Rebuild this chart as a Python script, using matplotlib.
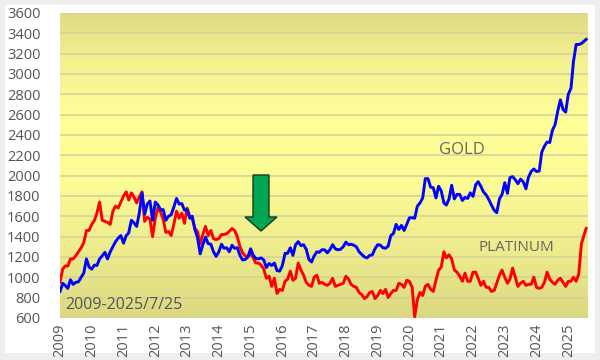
import matplotlib.pyplot as plt
import matplotlib.patches as mpatches
import numpy as np
import pandas as pd
from matplotlib.colors import LinearSegmentedColormap

plt.rcParams['font.family'] = ['Open Sans', 'DejaVu Sans']

# monthly readings, Jan 2009 .. Jun 2025, plus 2025/7/25
gold = [
    860, 940, 920, 890, 975, 930, 950, 955, 1000, 1040, 1180, 1100,
    1080, 1120, 1115, 1180, 1210, 1245, 1180, 1250, 1300, 1350, 1385, 1410,
    1335, 1410, 1435, 1560, 1535, 1500, 1630, 1830, 1620, 1720, 1750, 1560,
    1740, 1710, 1665, 1665, 1560, 1600, 1615, 1690, 1775, 1720, 1725, 1660,
    1665, 1580, 1600, 1470, 1390, 1230, 1320, 1395, 1330, 1325, 1250, 1205,
    1250, 1325, 1285, 1290, 1250, 1315, 1285, 1290, 1215, 1170, 1175, 1200,
    1280, 1215, 1185, 1180, 1190, 1170, 1095, 1135, 1115, 1140, 1065, 1060,
    1115, 1235, 1235, 1290, 1215, 1320, 1350, 1310, 1320, 1275, 1175, 1150,
    1210, 1250, 1245, 1270, 1270, 1240, 1270, 1320, 1280, 1270, 1275, 1300,
    1345, 1320, 1325, 1315, 1300, 1250, 1225, 1200, 1190, 1215, 1220, 1280,
    1320, 1315, 1290, 1285, 1305, 1410, 1430, 1520, 1470, 1510, 1460, 1520,
    1585, 1585, 1580, 1700, 1730, 1780, 1970, 1970, 1885, 1880, 1780, 1895,
    1850, 1730, 1710, 1770, 1905, 1770, 1815, 1815, 1755, 1785, 1775, 1830,
    1795, 1910, 1940, 1895, 1840, 1810, 1765, 1710, 1660, 1635, 1770, 1815,
    1930, 1825, 1980, 1990, 1960, 1920, 1965, 1940, 1870, 1985, 2040, 2065,
    2040, 2045, 2230, 2290, 2330, 2325, 2445, 2500, 2635, 2745, 2650, 2625,
    2800, 2860, 3120, 3290, 3290, 3300, 3340,
]
platinum = [
    950, 1080, 1110, 1110, 1180, 1180, 1210, 1250, 1290, 1340, 1460, 1460,
    1520, 1560, 1630, 1740, 1560, 1550, 1540, 1520, 1650, 1700, 1680, 1740,
    1800, 1840, 1760, 1830, 1790, 1730, 1790, 1840, 1550, 1590, 1570, 1400,
    1580, 1690, 1640, 1570, 1440, 1450, 1410, 1520, 1650, 1580, 1630, 1530,
    1680, 1600, 1580, 1480, 1450, 1330, 1420, 1500, 1410, 1460, 1380, 1370,
    1380, 1420, 1420, 1430, 1450, 1480, 1460, 1400, 1300, 1240, 1210, 1200,
    1230, 1190, 1140, 1140, 1120, 1080, 990, 1010, 910, 990, 840, 880,
    870, 960, 980, 1060, 970, 990, 1140, 1070, 1020, 950, 920, 910,
    1000, 1020, 940, 950, 930, 920, 940, 990, 910, 920, 930, 940,
    1010, 980, 930, 910, 900, 850, 830, 790, 810, 850, 860, 790,
    820, 870, 840, 880, 800, 840, 870, 870, 940, 930, 900, 970,
    960, 900, 610, 780, 850, 820, 910, 930, 880, 860, 970, 1070,
    1100, 1250, 1190, 1220, 1180, 1070, 1050, 1010, 960, 1040, 960, 960,
    1050, 1050, 990, 920, 960, 900, 900, 860, 870, 940, 1020, 1070,
    1000, 940, 980, 1090, 1000, 910, 940, 960, 920, 930, 930, 1000,
    900, 890, 900, 950, 1050, 980, 950, 930, 970, 990, 950, 910,
    960, 960, 1000, 960, 1030, 1330, 1480,
]
dates = list(pd.date_range('2009-01-01', periods=198, freq='MS')) + [pd.Timestamp('2025-07-25')]
x = np.array([d.year + (d.dayofyear - 1) / 365.25 for d in dates])

years = list(range(2009, 2026))
yticks = list(range(600, 3601, 200))

fig = plt.figure(figsize=(6, 3.6), dpi=100, facecolor='#eeeeee')
fig.patches.append(mpatches.Rectangle((5 / 600, 7 / 360), 590 / 600, 348 / 360,
                                      transform=fig.transFigure, facecolor='white',
                                      edgecolor='none', zorder=-5))
ax = fig.add_axes([0.1, 0.117, 0.88, 0.847])

# vertical gradient background
cmap = LinearSegmentedColormap.from_list('bg', [
    (0.0, '#dbd882'), (0.2, '#ecea8c'), (0.45, '#fcfc97'), (0.65, '#ffff99'),
    (0.85, '#f3f090'), (1.0, '#e0db84')])
grad = np.linspace(0, 1, 256).reshape(-1, 1)
ax.imshow(grad, aspect='auto', cmap=cmap, extent=[2009, 2025.62, 3600, 600],
          zorder=0)

ax.plot(x, platinum, color='#ff0000', lw=2.1, zorder=3)
ax.plot(x, gold, color='#0000ff', lw=2.1, zorder=4)

ax.set_xlim(2009, 2025.62)
ax.set_ylim(600, 3600)
ax.set_yticks(yticks)
ax.set_xticks(years)
ax.set_xticklabels([str(y) for y in years], rotation=90)
ax.tick_params(length=0, labelsize=10.5, colors='#555555')
ax.tick_params(axis='y', pad=14)
ax.tick_params(axis='x', pad=4)
ax.yaxis.grid(True, color='#d6d29c', lw=1.2, zorder=1)
ax.set_axisbelow(True)
for s in ax.spines.values():
    s.set_visible(False)

ax.text(2021.65, 2250, 'GOLD', fontsize=12, color='#666666', ha='center', va='center', zorder=5)
ax.text(2023.35, 1290, 'PLATINUM', fontsize=11, color='#666666', ha='center', va='center', zorder=5)
ax.text(2009.15, 730, '2009-2025/7/25', fontsize=11.5, color='#555555', ha='left', va='center', zorder=5)

# green down arrow
pts = [(253, 175), (269, 175), (269, 217), (277, 217), (261, 231), (245, 217), (253, 217)]
arrow = mpatches.Polygon([(px / 600, 1 - py / 360) for px, py in pts], closed=True,
                         transform=fig.transFigure, facecolor='#00a651',
                         edgecolor='#1a3a1a', lw=1, zorder=6)
fig.patches.append(arrow)

fig.savefig('out.png', dpi=100, facecolor=fig.get_facecolor())
